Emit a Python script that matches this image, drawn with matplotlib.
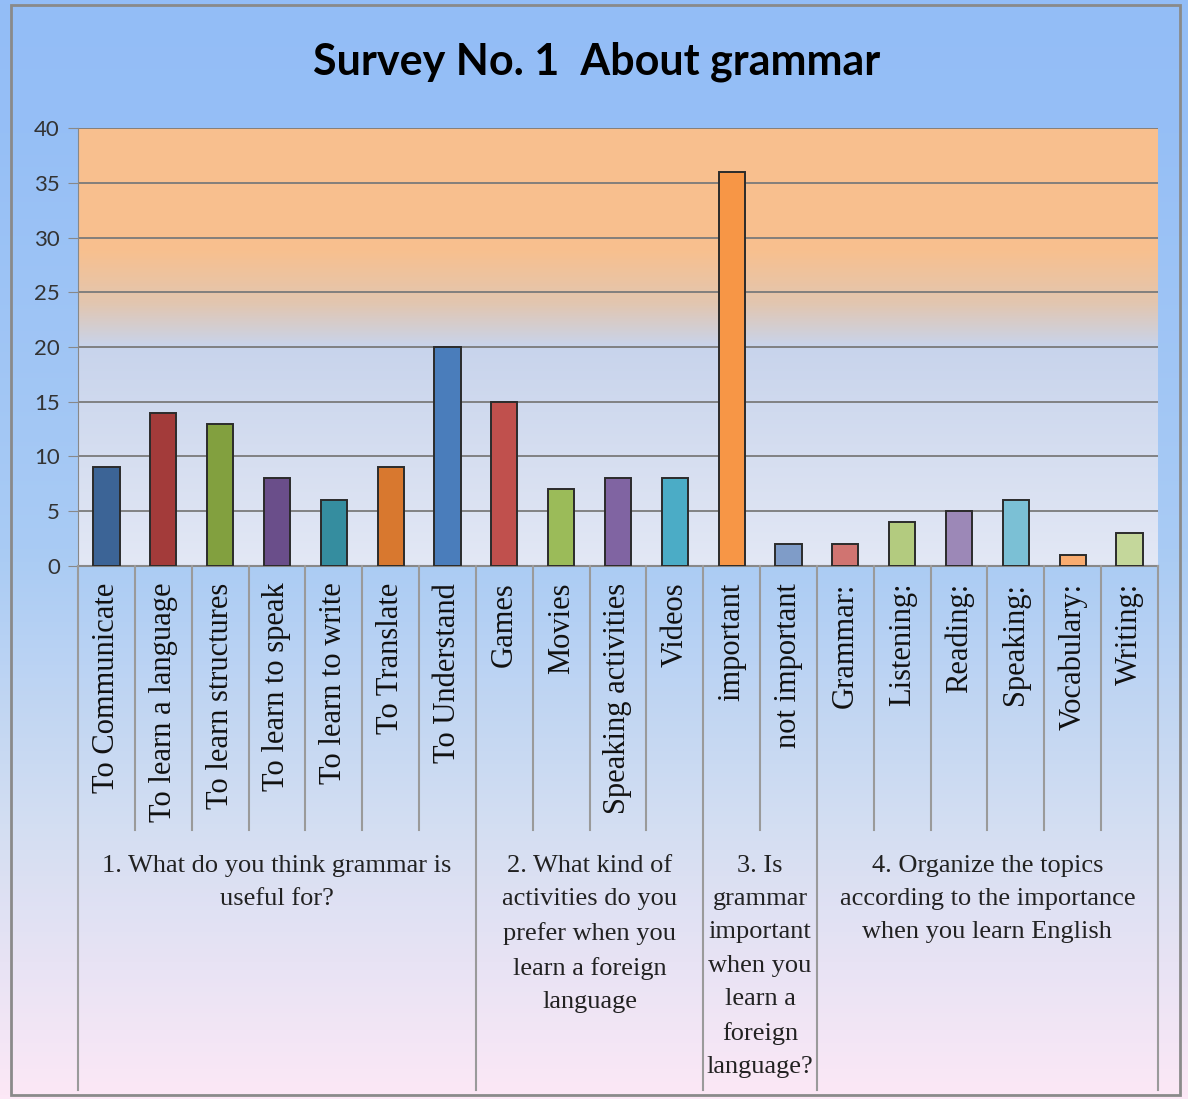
import numpy as np
import matplotlib
matplotlib.use("Agg")
from matplotlib import pyplot as plt
from matplotlib import transforms
from matplotlib.lines import Line2D
from matplotlib.patches import Rectangle
from matplotlib.colors import to_rgb

# data
categories = ["To Communicate", "To learn a language", "To learn structures",
              "To learn to speak", "To learn to write", "To Translate", "To Understand",
              "Games", "Movies", "Speaking activities", "Videos",
              "important", "not important",
              "Grammar:", "Listening:", "Reading:", "Speaking:", "Vocabulary:", "Writing:"]
values = [9, 14, 13, 8, 6, 9, 20, 15, 7, 8, 8, 36, 2, 2, 4, 5, 6, 1, 3]
bar_colors = ["#3C6496", "#A33B3A", "#82A03F", "#6A4E8A", "#358D9F", "#D8782F", "#4A7DBB",
              "#C0504D", "#9BBB59", "#8064A2", "#4BACC6", "#F79646", "#7F9CC8",
              "#D07471", "#B3CB7F", "#9C88B7", "#7BC0D5", "#F9AC70", "#C4D79B"]
groups = ["1. What do you think grammar is\nuseful for?",
          "2. What kind of\nactivities do you\nprefer when you\nlearn a foreign\nlanguage",
          "3. Is\ngrammar\nimportant\nwhen you\nlearn a\nforeign\nlanguage?",
          "4. Organize the topics\naccording to the importance\nwhen you learn English"]
group_sizes = [7, 4, 2, 6]


def gradient(stops, n=256):
    pos = [s[0] for s in stops]
    cols = np.array([to_rgb(s[1]) for s in stops])
    t = np.linspace(0, 1, n)
    rgb = np.stack([np.interp(t, pos, cols[:, k]) for k in range(3)], axis=1)
    return rgb[:, None, :]


fig = plt.figure(figsize=(11.88, 10.99), dpi=100)

# figure background (top -> bottom)
bg = fig.add_axes([0, 0, 1, 1], zorder=-10)
bg.imshow(gradient([(0, "#93BDF7"), (0.12, "#96BFF6"), (0.5, "#A9CBF4"),
                    (0.75, "#D3DEF2"), (1, "#FCE8F6")]),
          extent=[0, 1, 0, 1], aspect="auto", transform=bg.transAxes)
bg.axis("off")
fig.add_artist(Rectangle((0.009, 0.004), 0.984, 0.991, transform=fig.transFigure,
                         fill=False, edgecolor="#8a8a8a", lw=2))

ax = fig.add_axes([0.0657, 0.485, 0.909, 0.3985])
ax.set_facecolor("none")
ax.imshow(gradient([(0, "#F9BF8E"), (0.28, "#F8C08F"), (0.40, "#E2C6B0"),
                    (0.5, "#C8D4EC"), (1, "#E3E8F5")]),
          extent=[0, 1, 0, 1], aspect="auto", transform=ax.transAxes, zorder=0)

x = np.arange(len(categories))
ax.bar(x, values, width=0.46, color=bar_colors, edgecolor="#2b2b2b", lw=1.4, zorder=3)

ax.set_xlim(-0.5, len(categories) - 0.5)
ax.set_ylim(0, 40)
ax.set_yticks(np.arange(0, 41, 5))
ax.yaxis.grid(True, color="#7a7a7a", lw=1.3, zorder=1)
ax.set_axisbelow(True)
for lab in ax.get_yticklabels():
    lab.set_fontfamily("Lato")
    lab.set_fontsize(16)
    lab.set_color("#333333")
ax.tick_params(axis="y", length=7, color="#888888", pad=6)

ax.set_xticks(x)
ax.set_xticklabels(categories, rotation=90, va="top", ha="center",
                   fontfamily="Liberation Serif", fontsize=22, color="#111111")
ax.tick_params(axis="x", length=0, pad=12)

for s in ["top", "right"]:
    ax.spines[s].set_visible(False)
ax.spines["left"].set_color("#888888")
ax.spines["bottom"].set_color("#888888")
ax.spines["bottom"].set_linewidth(1.5)

# separators under the axis
tr = transforms.blended_transform_factory(ax.transData, fig.transFigure)
bounds = np.cumsum([0] + group_sizes) - 0.5
for b in np.arange(-0.5, len(categories), 1.0):
    bottom = 0.008 if np.any(np.isclose(bounds, b)) else 0.245
    fig.add_artist(Line2D([b, b], [0.485, bottom], transform=tr,
                          color="#9a9a9a", lw=1.5))

for i, g in enumerate(groups):
    cx = (bounds[i] + bounds[i + 1]) / 2
    fig.text(cx, 0.222, g, transform=tr, ha="center", va="top", multialignment="center",
             fontfamily="Liberation Serif", fontsize=19, linespacing=1.66, color="#222222")

fig.text(0.502, 0.9436, "Survey No. 1  About grammar", ha="center", va="center",
         fontfamily="Lato", fontweight="bold", fontsize=31, color="#000000")

fig.savefig("out.png", dpi=100)
